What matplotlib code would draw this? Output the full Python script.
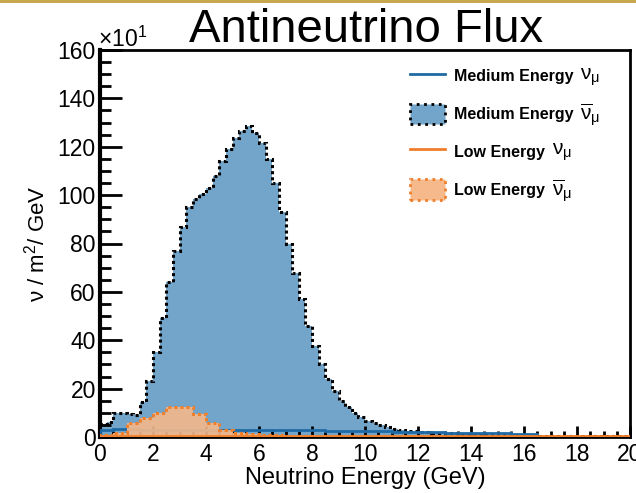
import numpy as np
import matplotlib
matplotlib.use("Agg")
import matplotlib.pyplot as plt
from matplotlib.lines import Line2D
from matplotlib.patches import Patch, Rectangle
from matplotlib.ticker import MultipleLocator

plt.rcParams["font.family"] = ["Liberation Sans", "DejaVu Sans"]
plt.rcParams["mathtext.fontset"] = "custom"
plt.rcParams["mathtext.rm"] = "Liberation Sans"
plt.rcParams["mathtext.it"] = "Liberation Sans:italic"
plt.rcParams["mathtext.bf"] = "Liberation Sans:bold"

# ── data (flux in units of 10 nu/m^2/GeV) ─────────────────────────────
fine_edges = np.arange(0, 20.001, 0.25)     # 0.25 GeV bins
coarse_edges = np.arange(0, 20.001, 0.5)    # 0.5 GeV bins

me_nubar = [
    5.5, 6.0, 9.8, 9.8, 9.4, 9.0, 14.5, 23,
    35, 49, 64, 77, 87, 95, 98.5, 100.5,
    103, 108, 114, 119, 123.5, 126.5, 128.5, 125.5,
    121.5, 115, 105, 93, 80, 68, 57, 46,
    37.5, 30, 24, 19, 15, 12.3, 10, 8.3,
    6.8, 5.8, 4.8, 4.1, 3.5, 3.0, 2.6, 2.3,
    2.0, 1.9, 1.8, 1.7, 1.6, 1.5, 1.4, 1.3,
    1.2, 1.1, 1.0, 1.0, 0.9, 0.9, 0.8, 0.8,
    0.7, 0.7, 0.6, 0.6, 0.6, 0.5, 0.5, 0.5,
    0.4, 0.4, 0.4, 0.4, 0.4, 0.4, 0.4, 0.4,
]

le_nubar = [
    1.0, 1.5, 5.8, 7.8, 10, 12.2, 12.2, 9.7, 5.8, 2.9,
    1.6, 1.2, 0.9, 0.7, 0.6, 0.5, 0.5, 0.4, 0.4, 0.35,
    0.3, 0.3, 0.3, 0.25, 0.25, 0.2, 0.2, 0.2, 0.2, 0.15,
    0.15, 0.15, 0.15, 0.1, 0.1, 0.1, 0.1, 0.1, 0.1, 0.1,
]

me_nu = [
    3.0, 3.2, 3.2, 3.1, 3.0, 3.0, 3.0, 2.9, 2.9, 2.9,
    2.8, 2.8, 2.8, 2.8, 2.7, 2.7, 2.7, 2.6, 2.6, 2.5,
    2.4, 2.3, 2.2, 2.1, 2.0, 1.9, 1.8, 1.8, 1.7, 1.6,
    1.5, 1.4, 1.3, 0.2, 0.2, 0.2, 0.2, 0.2, 0.2, 0.2,
]

le_nu = [
    0.6, 0.6, 0.6, 0.6, 0.6, 0.6, 0.6, 0.6, 0.6, 0.6,
    0.55, 0.55, 0.55, 0.5, 0.5, 0.5, 0.5, 0.5, 0.45, 0.45,
    0.45, 0.45, 0.4, 0.4, 0.4, 0.4, 0.4, 0.4, 0.35, 0.35,
    0.35, 0.35, 0.35, 0.3, 0.3, 0.3, 0.3, 0.3, 0.3, 0.3,
]

labels = ["Medium Energy", "Medium Energy", "Low Energy", "Low Energy"]
symbols = [
    r"$\mathrm{\nu}_{\mathrm{\mu}}$",
    r"$\overline{\mathrm{\nu}}_{\mathrm{\mu}}$",
    r"$\mathrm{\nu}_{\mathrm{\mu}}$",
    r"$\overline{\mathrm{\nu}}_{\mathrm{\mu}}$",
]

BLUE_LINE = "#1f6aa5"
BLUE_FILL = "#72a5c9"
ORANGE_LINE = "#ef7f2a"
ORANGE_FILL = "#f5b98b"
DOTS = (0, (1, 1))

# ── figure ────────────────────────────────────────────────────────────
fig = plt.figure(figsize=(6.36, 4.93), dpi=100)
ax = fig.add_axes([100 / 636, 56 / 493, 530 / 636, 387 / 493])

ax.stairs(me_nubar, fine_edges, fill=True, color=BLUE_FILL, zorder=1)
ax.stairs(me_nubar, fine_edges, color="black", lw=2.2, ls=DOTS, zorder=2)
ax.stairs(me_nu, coarse_edges, color=BLUE_LINE, lw=2, zorder=3)
ax.stairs(le_nubar, coarse_edges, fill=True, color=ORANGE_FILL, alpha=0.9, zorder=4)
ax.stairs(le_nubar, coarse_edges, color=ORANGE_LINE, lw=2.2, ls=DOTS, zorder=5)
ax.stairs(le_nu, coarse_edges, color=ORANGE_LINE, lw=2, zorder=6)

ax.set_xlim(0, 20)
ax.set_ylim(0, 160)
ax.xaxis.set_major_locator(MultipleLocator(2))
ax.xaxis.set_minor_locator(MultipleLocator(0.5))
ax.yaxis.set_major_locator(MultipleLocator(20))
ax.yaxis.set_minor_locator(MultipleLocator(5))
ax.tick_params(axis="both", which="both", direction="in", width=2,
               labelsize=16.5, zorder=10)
ax.tick_params(axis="y", which="major", length=16, pad=3)
ax.tick_params(axis="y", which="minor", length=8)
ax.tick_params(axis="x", which="major", length=8, pad=4)
ax.tick_params(axis="x", which="minor", length=4)
ax.set_axisbelow(False)

for side in ["top", "right", "bottom"]:
    ax.spines[side].set_linewidth(2)
ax.spines["left"].set_linewidth(3)

ax.set_xlabel("Neutrino Energy (GeV)", fontsize=17, labelpad=1)
ax.set_ylabel("ν / m$^{2}$/ GeV", fontsize=16, labelpad=6)

fig.text(98 / 636, 1 - 47 / 493, r"×10$^{1}$", fontsize=16.5, ha="left", va="baseline")
fig.text(366 / 636, 1 - 42 / 493, "Antineutrino Flux", fontsize=34,
         ha="center", va="baseline")

# thin gold strip at top of the slide
fig.add_artist(Rectangle((0, 1 - 3 / 493), 1, 3 / 493, color="#c9a74f",
                         transform=fig.transFigure, lw=0))

handles = [
    Line2D([], [], color=BLUE_LINE, lw=2),
    Patch(facecolor=BLUE_FILL, edgecolor="black", ls=":", lw=2),
    Line2D([], [], color=ORANGE_LINE, lw=2),
    Patch(facecolor=ORANGE_FILL, edgecolor=ORANGE_LINE, ls=":", lw=2),
]
leg = fig.legend(handles, labels, loc="upper left",
                 bbox_to_anchor=(410 / 636, 1 - 66 / 493),
                 frameon=False, borderpad=0, borderaxespad=0,
                 handlelength=2.2, handleheight=1.6, handletextpad=0.55,
                 labelspacing=1.08, prop={"size": 11.5, "weight": "bold"})

# greek symbols after each legend label, slightly larger and not bold
fig.canvas.draw()
W, H = fig.bbox.width, fig.bbox.height
for txt, sym in zip(leg.get_texts(), symbols):
    bb = txt.get_window_extent()
    fig.text((bb.x1 + 7) / W, (bb.y0 + bb.y1) / 2 / H, sym, fontsize=15,
             ha="left", va="center")

fig.savefig("out.png", dpi=100)
